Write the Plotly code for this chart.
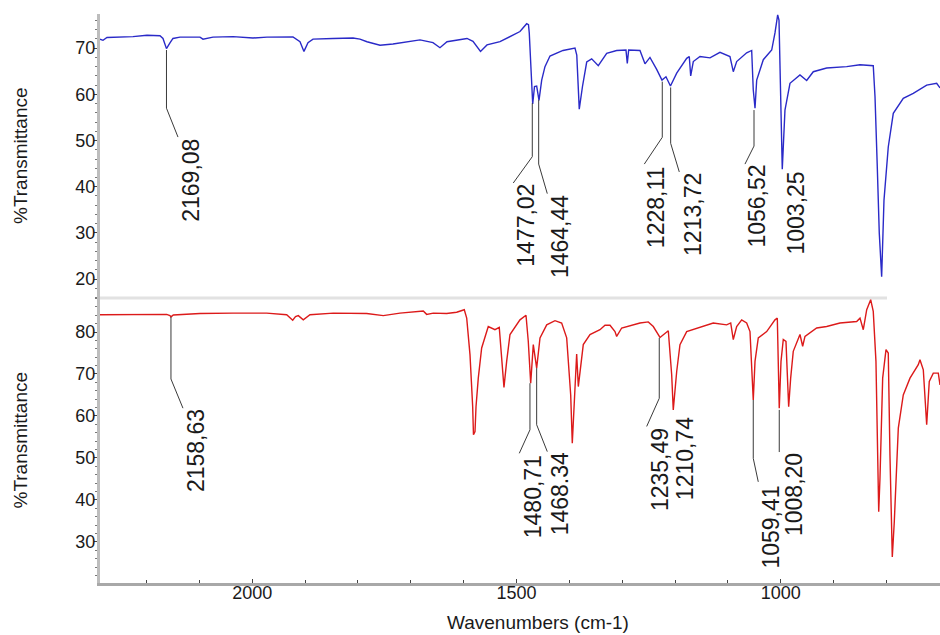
import plotly.graph_objects as go

# ---------------- data ----------------
top_wn = [
    2288.2, 2282.5, 2275.0, 2250.4, 2225.8, 2199.3, 2174.7, 2169.0, 2162.4, 2155.8,
    2150.1, 2136.8, 2099.0, 2093.3, 2074.4, 2036.5, 1998.7, 1972.2, 1923.0, 1909.7,
    1902.2, 1894.6, 1885.1, 1847.3, 1809.4, 1796.2, 1782.9, 1758.3, 1733.7, 1682.6,
    1658.0, 1644.8, 1631.5, 1593.7, 1582.3, 1568.1, 1555.8, 1531.2, 1506.6, 1493.4,
    1480.7, 1477.3, 1475.8, 1473.1, 1469.3, 1465.9, 1461.8, 1457.4, 1452.3, 1446.1,
    1436.6, 1412.0, 1389.3, 1385.9, 1384.0, 1381.2, 1375.1, 1367.1, 1357.7, 1345.2,
    1329.3, 1310.4, 1292.8, 1290.3, 1287.7, 1266.3, 1256.8, 1247.4, 1234.7, 1224.7,
    1217.1, 1208.6, 1196.8, 1177.9, 1173.0, 1170.3, 1165.4, 1152.7, 1133.8, 1114.9,
    1096.0, 1089.7, 1083.3, 1064.4, 1054.9, 1051.9, 1048.6, 1045.4, 1032.9, 1017.0,
    1010.8, 1005.7, 1003.2, 1000.0, 997.0, 991.9, 982.4, 963.5, 950.8, 938.3,
    913.0, 875.1, 849.9, 824.8, 821.5, 817.2, 813.4, 808.9, 804.5, 796.4,
    786.9, 768.0, 749.1, 723.7, 704.8, 698.5,
]
top_T = [
    71.95, 71.7, 72.3, 72.4, 72.5, 72.8, 72.7, 72.1, 69.9, 71.15,
    72.1, 72.4, 72.4, 71.95, 72.4, 72.5, 72.2, 72.4, 72.45, 71.4,
    69.3, 71.2, 71.95, 72.1, 72.2, 71.95, 71.4, 70.65, 70.9, 71.8,
    71.2, 70.1, 71.4, 72.1, 71.5, 69.3, 70.7, 71.4, 72.8, 73.6,
    75.3, 75.1, 73.3, 66.7, 57.9, 61.7, 61.8, 58.7, 63.1, 66.0,
    68.3, 69.5, 70.0, 68.5, 63.1, 56.8, 61.7, 67.0, 67.7, 66.2,
    68.9, 69.5, 69.6, 66.7, 69.6, 69.5, 66.6, 68.0, 65.4, 63.1,
    63.8, 61.8, 64.6, 67.8, 68.2, 64.0, 67.1, 68.2, 67.9, 69.1,
    68.2, 64.9, 67.1, 69.0, 69.5, 61.0, 57.0, 63.1, 67.5, 69.6,
    73.3, 77.2, 76.1, 58.8, 43.8, 56.6, 62.4, 64.2, 63.0, 64.9,
    65.7, 66.0, 66.4, 66.2, 59.5, 44.3, 29.9, 20.5, 37.1, 48.6,
    55.9, 59.15, 60.2, 62.0, 62.4, 61.4,
]

bottom_wn = [
    2288.2, 2212.5, 2162.0, 2155.8, 2153.9, 2149.5, 2099.0, 2036.5, 1972.7, 1934.9,
    1923.5, 1918.2, 1912.9, 1903.5, 1890.8, 1846.7, 1783.5, 1752.1, 1720.5, 1676.4,
    1670.0, 1657.5, 1632.1, 1613.2, 1598.8, 1594.2, 1588.0, 1582.9, 1581.4, 1578.5,
    1576.6, 1572.3, 1565.9, 1553.4, 1540.7, 1532.6, 1528.0, 1523.7, 1518.6, 1512.3,
    1493.4, 1482.0, 1477.7, 1473.1, 1468.2, 1465.0, 1461.8, 1455.5, 1442.8, 1427.1,
    1414.5, 1405.0, 1397.4, 1394.4, 1390.6, 1386.1, 1383.0, 1379.8, 1373.6, 1360.9,
    1342.0, 1332.5, 1323.0, 1313.6, 1310.4, 1300.9, 1279.0, 1266.3, 1250.6, 1241.1,
    1228.4, 1212.7, 1206.3, 1203.3, 1196.8, 1190.6, 1177.9, 1152.7, 1127.6, 1102.2,
    1094.6, 1089.7, 1083.3, 1073.8, 1064.4, 1058.1, 1054.9, 1051.9, 1048.6, 1042.4,
    1026.5, 1010.8, 1006.4, 1004.5, 1002.7, 999.4, 995.1, 990.0, 987.5, 984.9,
    981.1, 976.2, 963.5, 958.4, 954.0, 931.9, 913.0, 887.8, 856.2, 849.9,
    843.7, 837.2, 829.7, 824.8, 819.7, 816.4, 814.5, 812.1, 807.0, 800.7,
    796.4, 793.2, 788.8, 785.0, 777.4, 768.0, 755.3, 739.6, 736.4, 730.1,
    723.7, 718.8, 711.2, 701.7, 698.5,
]
bottom_T = [
    84.1, 84.25, 84.2, 83.9, 83.6, 84.05, 84.4, 84.5, 84.5, 84.1,
    82.8, 83.65, 83.9, 82.9, 84.1, 84.5, 84.4, 83.9, 84.5, 85.0,
    84.2, 84.5, 84.4, 84.7, 85.3, 83.3, 74.6, 62.2, 55.5, 56.3,
    62.2, 69.0, 76.2, 81.3, 80.55, 81.1, 73.0, 66.8, 73.0, 79.4,
    82.9, 84.0, 77.8, 67.8, 77.0, 74.6, 71.4, 78.6, 81.7, 82.7,
    82.15, 78.6, 65.0, 53.5, 65.0, 74.75, 67.0, 70.6, 77.0, 79.4,
    80.55, 81.6, 81.6, 80.1, 78.95, 80.95, 81.7, 82.15, 82.4, 81.3,
    78.7, 80.3, 69.8, 61.45, 70.6, 77.0, 80.1, 81.15, 82.15, 81.7,
    82.15, 78.2, 81.3, 82.9, 82.15, 80.1, 70.6, 63.8, 73.0, 78.6,
    80.1, 82.9, 83.3, 73.0, 61.85, 73.0, 78.2, 77.75, 68.2, 62.2,
    69.0, 75.4, 79.4, 76.6, 78.95, 80.95, 81.3, 82.15, 82.5, 83.3,
    80.55, 85.3, 87.7, 84.9, 73.0, 49.1, 37.2, 45.1, 69.0, 75.8,
    75.0, 50.7, 26.4, 34.8, 57.1, 65.0, 69.0, 72.2, 73.4, 71.0,
    57.9, 68.2, 70.2, 70.2, 67.4,
]

y_ticks_top = [20, 30, 40, 50, 60, 70]
y_ticks_bottom = [30, 40, 50, 60, 70, 80]
x_ticks = [2000, 1500, 1000]

top_labels = ["2169,08", "1477,02", "1464,44", "1228,11", "1213,72", "1056,52", "1003,25"]
bottom_labels = ["2158,63", "1480,71", "1468.34", "1235,49", "1210,74", "1059,41", "1008,20"]

# leader lines (peak -> label), in wavenumber / %T
top_leader_wn = [[2162.4, 2162.4, 2140.6], [1470.1, 1470.1, 1506.1], [1458.0, 1458.0, 1441.7],
                 [1224.1, 1224.1, 1258.1], [1208.2, 1208.2, 1191.9], [1050.5, 1050.5, 1067.6], []]
top_leader_T = [[69.6, 57.0, 50.75], [58.1, 46.5, 40.8], [58.8, 44.9, 38.5],
                [62.75, 50.7, 44.9], [61.5, 49.4, 43.2], [56.6, 48.8, 44.9], []]
bottom_leader_wn = [[2153.9, 2153.9, 2131.2], [1474.5, 1474.5, 1494.7], [1461.8, 1461.8, 1441.7],
                    [1229.8, 1229.8, 1253.6], [], [1051.9, 1051.9, 1042.4], [1002.7, 1002.7]]
bottom_leader_T = [[83.6, 68.8, 61.85], [67.8, 56.7, 51.1], [71.4, 57.9, 51.5],
                   [78.6, 64.2, 57.5], [], [63.8, 49.9, 44.3], [61.45, 51.4]]

# label placement (layout)
top_label_wn = [2116, 1482, 1417.7, 1234.7, 1166, 1043.9, 971]
top_label_T = [41.5, 31.55, 29.3, 35.5, 34.1, 35.8, 34.2]
bottom_label_wn = [2106, 1469.7, 1417.7, 1228.4, 1179.6, 1018.7, 974.5]
bottom_label_T = [51.7, 40.75, 41.55, 47.1, 49.9, 33.6, 41.2]

# ---------------- figure ----------------
FONT = "Liberation Sans, Arial, sans-serif"
SPLIT = (583 - 298) / 569.0

fig = go.Figure()

fig.add_trace(go.Scatter(x=top_wn, y=top_T, mode="lines", xaxis="x", yaxis="y2",
                         line=dict(color="#2a2ac8", width=1.4), hoverinfo="skip",
                         showlegend=False))
fig.add_trace(go.Scatter(x=bottom_wn, y=bottom_T, mode="lines", xaxis="x", yaxis="y",
                         line=dict(color="#dc1a1a", width=1.4), hoverinfo="skip",
                         showlegend=False))

for lx, ly in zip(top_leader_wn, top_leader_T):
    if lx:
        fig.add_trace(go.Scatter(x=lx, y=ly, mode="lines", xaxis="x", yaxis="y2",
                                 line=dict(color="#3a3a3a", width=1), hoverinfo="skip",
                                 showlegend=False))
for lx, ly in zip(bottom_leader_wn, bottom_leader_T):
    if lx:
        fig.add_trace(go.Scatter(x=lx, y=ly, mode="lines", xaxis="x", yaxis="y",
                                 line=dict(color="#3a3a3a", width=1), hoverinfo="skip",
                                 showlegend=False))

annotations = []
for txt, ax_, ay_ in zip(top_labels, top_label_wn, top_label_T):
    annotations.append(dict(text=txt, x=ax_, y=ay_, xref="x", yref="y2", showarrow=False,
                            textangle=-90, xanchor="center", yanchor="middle",
                            font=dict(family=FONT, size=23, color="#1a1a1a")))
for txt, ax_, ay_ in zip(bottom_labels, bottom_label_wn, bottom_label_T):
    annotations.append(dict(text=txt, x=ax_, y=ay_, xref="x", yref="y", showarrow=False,
                            textangle=-90, xanchor="center", yanchor="middle",
                            font=dict(family=FONT, size=23, color="#1a1a1a")))

for yref in ["y2 domain", "y domain"]:
    annotations.append(dict(text="%Transmittance", xref="paper", yref=yref,
                            x=(20 - 100) / 840.0, y=0.5, showarrow=False, textangle=-90,
                            xanchor="center", yanchor="middle",
                            font=dict(family=FONT, size=19, color="#1a1a1a")))
annotations.append(dict(text="Wavenumbers (cm-1)", xref="paper", yref="paper",
                        x=(538 - 100) / 840.0, y=(583 - 622) / 569.0, showarrow=False,
                        xanchor="center", yanchor="middle",
                        font=dict(family=FONT, size=19, color="#1a1a1a")))

axis_common = dict(showgrid=False, zeroline=False, showline=True,
                   tickwidth=1, tickcolor="#444",
                   tickfont=dict(family=FONT, size=18, color="#1a1a1a"))

fig.update_layout(
    width=940, height=635,
    margin=dict(l=100, r=0, t=14, b=52),
    paper_bgcolor="white", plot_bgcolor="white",
    showlegend=False,
    xaxis=dict(range=[2288.2, 698.5], tickvals=x_ticks, anchor="y",
               linecolor="#a8a8a8", linewidth=3, ticks="inside", ticklen=4,
               ticklabelstandoff=-9,
               minor=dict(dtick=100, tick0=0, ticks="inside", ticklen=3,
                          tickcolor="#444", tickwidth=1),
               **axis_common),
    yaxis=dict(domain=[0, SPLIT], range=[20.2, 88.1], tickvals=y_ticks_bottom,
               anchor="x", linecolor="#bdbdbd", linewidth=3, ticks="outside", ticklen=3,
               ticklabelstandoff=-5,
               minor=dict(dtick=2, tick0=0, ticks="outside", ticklen=2,
                          tickcolor="#777", tickwidth=1),
               **axis_common),
    yaxis2=dict(domain=[SPLIT, 1], range=[15.9, 77.4], tickvals=y_ticks_top,
                anchor="x", linecolor="#bdbdbd", linewidth=3, ticks="outside", ticklen=3,
                ticklabelstandoff=-5,
                minor=dict(dtick=2, tick0=0, ticks="outside", ticklen=2,
                           tickcolor="#777", tickwidth=1),
                **axis_common),
    annotations=annotations,
    shapes=[dict(type="line", xref="paper", yref="paper", x0=0, x1=(887 - 100) / 840.0,
                 y0=SPLIT, y1=SPLIT, line=dict(color="#e2e2e2", width=3), layer="below")],
)

fig.write_html("out.html", config={"displayModeBar": False},
               post_script="document.body.style.margin='0';document.body.style.overflow='hidden';")
